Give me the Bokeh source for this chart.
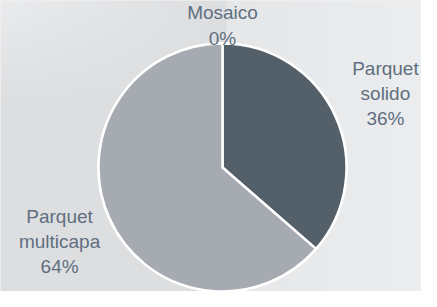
import numpy as np
from bokeh.plotting import figure
from bokeh.models import Range1d, ColumnDataSource
from bokeh.core.properties import value
from bokeh.embed import file_html
from bokeh.resources import INLINE

# ---- data ----
names = ["Mosaico", "Parquet solido", "Parquet multicapa"]
values = [0.0, 36.4, 63.6]
colors = ["#7e8790", "#535f69", "#a6aab1"]

# ---- layout ----
W, H = 421, 291
cx, cy, R = 222, 124, 124
label_dist = R + 55
label_top = 266

p = figure(width=W, height=H, output_backend="svg", toolbar_location=None,
           x_range=Range1d(0, W), y_range=Range1d(0, H), min_border=0)
p.axis.visible = False
p.grid.visible = False
p.outline_line_color = None
p.background_fill_color = "#e3e4e6"
p.border_fill_color = "#e3e4e6"

# background shading (style only)
xs = np.arange(W)[None, :].astype(float)
ys = np.arange(H)[:, None].astype(float)
ypx = (H - ys)
xpx = xs
split = 226
left = xpx < split
v_left = 221 + 14 * np.clip(1 - ypx / 105, 0, 1) * np.clip(1 - xpx / split, 0, 1) + 0 * ypx
v_right = 230 + 6 * np.clip((xpx - split) / 190, 0, 1) + 0 * ypx
v = np.where(left, v_left, v_right)
v = np.broadcast_to(v, (H, W))
img = np.empty((H, W), dtype=np.uint32)
view = img.view(dtype=np.uint8).reshape((H, W, 4))
view[:, :, 0] = v.astype(np.uint8)
view[:, :, 1] = (v + 1).clip(0, 255).astype(np.uint8)
view[:, :, 2] = (v + 3).clip(0, 255).astype(np.uint8)
view[:, :, 3] = 255
p.image_rgba(image=[img], x=0, y=0, dw=W, dh=H)

total = sum(values)
fr = np.array(values) / total
cum = np.concatenate([[0], np.cumsum(fr)])
start = np.pi / 2 - cum[:-1] * 2 * np.pi
end = np.pi / 2 - cum[1:] * 2 * np.pi
mid = (start + end) / 2

src = ColumnDataSource(dict(start=list(start), end=list(end), color=colors))
p.wedge(x=cx, y=cy, radius=R, start_angle="start", end_angle="end",
        direction="clock", fill_color="color", line_color="white",
        line_width=2.5, source=src)

pcts = [f"{round(f * 100):d}%" for f in fr]
texts = [n.replace(" ", "\n") + "\n" + pc for n, pc in zip(names, pcts)]
lx = [cx + label_dist * np.cos(m) for m in mid]
ly = [min(cy + label_dist * np.sin(m), label_top) for m in mid]
p.text(x=lx, y=ly, text=texts, text_align="center", text_baseline="middle",
       text_font=value("Liberation Sans"), text_font_size="19px",
       text_color="#5f6f80", text_line_height=1.2)

open("out.html", "w").write(file_html(p, INLINE))
